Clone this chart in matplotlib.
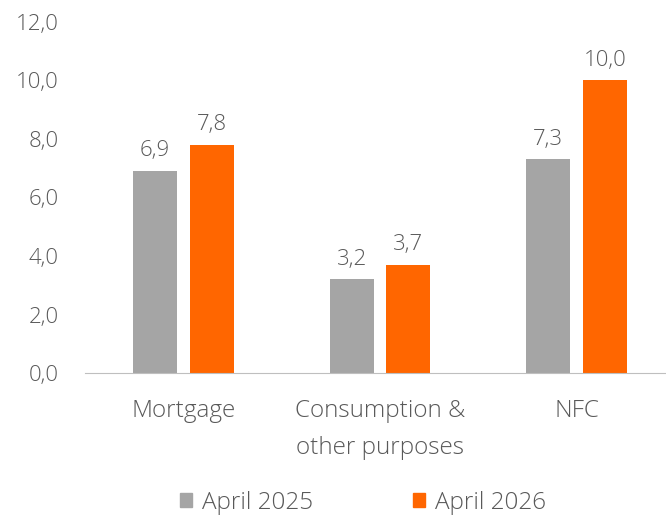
import matplotlib
matplotlib.use("Agg")
import matplotlib.pyplot as plt
from matplotlib.patches import Patch
import numpy as np

categories = ["Mortgage", "Consumption &\nother purposes", "NFC"]
series_names = ["April 2025", "April 2026"]
values_2025 = [6.9, 3.2, 7.3]
values_2026 = [7.8, 3.7, 10.0]
yticks = [0, 2, 4, 6, 8, 10, 12]

colors = ["#A5A5A5", "#FF6600"]
plt.rcParams['font.family'] = ['Open Sans', 'DejaVu Sans']
text_color = "#595959"
fs = 16
fs_big = 17.5

fig = plt.figure(figsize=(6.66, 5.19), dpi=100)
ax = fig.add_axes([85/666, 1-373/519, 580/666, (373-22)/519])

x = np.arange(len(categories))
w = 0.224
off = 0.144
b1 = ax.bar(x - off, values_2025, width=w, color=colors[0])
b2 = ax.bar(x + off, values_2026, width=w, color=colors[1])
for bars, vals in ((b1, values_2025), (b2, values_2026)):
    for b, v in zip(bars, vals):
        ax.annotate(f"{v:.1f}".replace(".", ","), (b.get_x() + b.get_width()/2, v),
                    xytext=(0, 7), textcoords="offset points", ha="center", va="bottom",
                    fontsize=fs, color=text_color, fontweight="light")

ax.set_xlim(-0.5, 2.45)
ax.set_ylim(0, 12)
ax.set_yticks(yticks)
ax.set_yticklabels([f"{t:.1f}".replace(".", ",") for t in yticks], fontsize=fs)
ax.set_xticks(x)
ax.set_xticklabels(categories, linespacing=1.7, fontsize=fs_big)
for s in ["top", "right", "left"]:
    ax.spines[s].set_visible(False)
ax.spines["bottom"].set_color("#BFBFBF")
ax.tick_params(axis="both", length=0, colors=text_color)
ax.tick_params(axis="x", pad=19)
ax.tick_params(axis="y", pad=19)
for lbl in ax.get_xticklabels() + ax.get_yticklabels():
    lbl.set_fontweight("light")

handles = [Patch(color=c) for c in colors]
leg = fig.legend(handles, series_names, loc="center", bbox_to_anchor=(363/666, 1-503/519),
                 ncol=2, frameon=False, fontsize=fs_big, handlelength=0.5, handleheight=0.5,
                 columnspacing=4.1, handletextpad=0.41)
for t in leg.get_texts():
    t.set_color(text_color)
    t.set_fontweight("light")

fig.savefig("out.png", dpi=100)
